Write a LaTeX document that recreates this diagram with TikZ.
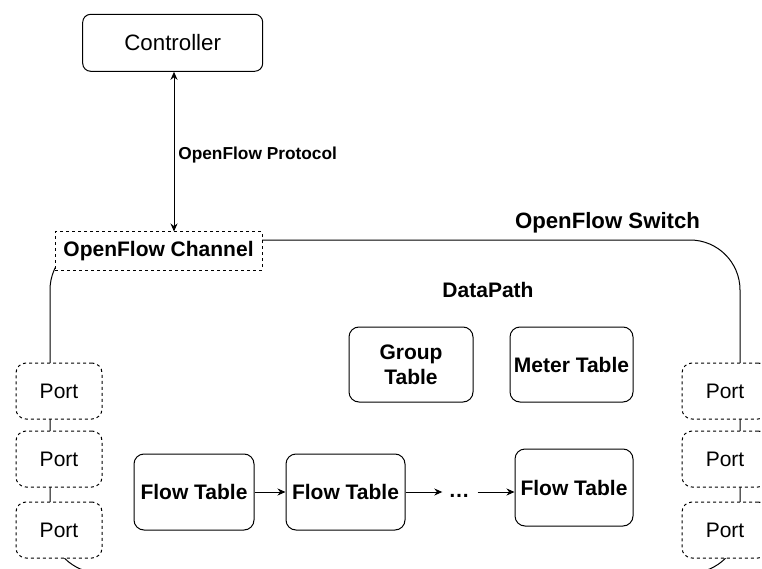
\documentclass[tikz,border=0pt]{standalone}
\usepackage{fontspec}
\setmainfont{Liberation Sans}
\usetikzlibrary{arrows.meta}

\tikzset{
  base/.style={line width=1pt},
  txt/.style={font=\fontsize{21}{25}\selectfont},
  btxt/.style={font=\fontsize{21}{25}\selectfont\bfseries},
  stxt/.style={font=\fontsize{17.3}{20}\selectfont\bfseries},
  rbox/.style={base, draw, fill=white, rounded corners=10pt, inner sep=0pt, align=center},
  portbox/.style={base, draw, fill=white, rounded corners=10pt, inner sep=0pt,
    dash pattern=on 3pt off 3pt, minimum width=86pt, minimum height=56pt, txt},
  flowbox/.style={rbox, btxt, minimum height=76pt},
  tip/.style={-{Stealth[length=8pt,width=7pt]}},
}

\begin{document}
\begin{tikzpicture}[x=1pt, y=-1pt]
  \clip (0,0) rectangle (762,569);
  \fill[white] (0,0) rectangle (762,569);

  % switch outline, partly hidden behind the channel and the ports
  \draw[base, rounded corners=50pt] (50,240) rectangle (740,573);

  % controller and secure channel
  \node[rbox, font=\fontsize{22.3}{26}\selectfont, rounded corners=8pt,
        minimum width=180pt, minimum height=57pt]
    (ctrl) at (172.7,42.8) {Controller};
  \node[base, draw, fill=white, dash pattern=on 3pt off 3pt, inner sep=0pt,
        minimum width=207pt, minimum height=38pt, btxt]
    (chan) at (158.5,251) {OpenFlow Channel};
  \draw[base, {Stealth[length=8pt,width=7pt]}-{Stealth[length=8pt,width=7pt]}]
    ([xshift=1.3pt]ctrl.south) -- ([xshift=1.3pt]ctrl.south |- chan.north)
    node[pos=0.52, right, xshift=0.5pt, stxt] (proto) {OpenFlow Protocol};

  % headings
  \node[font=\fontsize{22.2}{26}\selectfont\bfseries] (swlabel) at (607.5,223) {OpenFlow Switch};
  \node[btxt] (dplabel) at (488,290) {DataPath};

  % group and meter tables
  \node[rbox, btxt, minimum width=124pt, minimum height=75pt] (group) at (411,364.5) {Group\\Table};
  \node[rbox, btxt, minimum width=123pt, minimum height=75pt] (meter) at (571.5,364.5) {Meter Table};

  % flow table pipeline
  \node[flowbox, minimum width=120pt] (ft1) at (194,492) {Flow Table};
  \node[flowbox, minimum width=119pt] (ft2) at (345.5,492) {Flow Table};
  \node[flowbox, minimum width=118pt, minimum height=77pt] (ft3) at (574,487.5) {Flow Table};
  \node[btxt, inner sep=0pt] (dots) at (459,492) {\strut\dots};

  \draw[base, tip] (ft1) -- (ft2);
  \draw[base, tip] (ft2.east) -- ([xshift=-6pt]dots.west);
  \draw[base, tip] ([xshift=8pt]dots.east) -- (ft3.west |- dots);

  % ports on both sides
  \foreach \i/\yy in {1/391, 2/459, 3/530} {
    \node[portbox] (pl\i) at (59,\yy) {Port};
    \node[portbox] (pr\i) at (725,\yy) {Port};
  }
\end{tikzpicture}
\end{document}
